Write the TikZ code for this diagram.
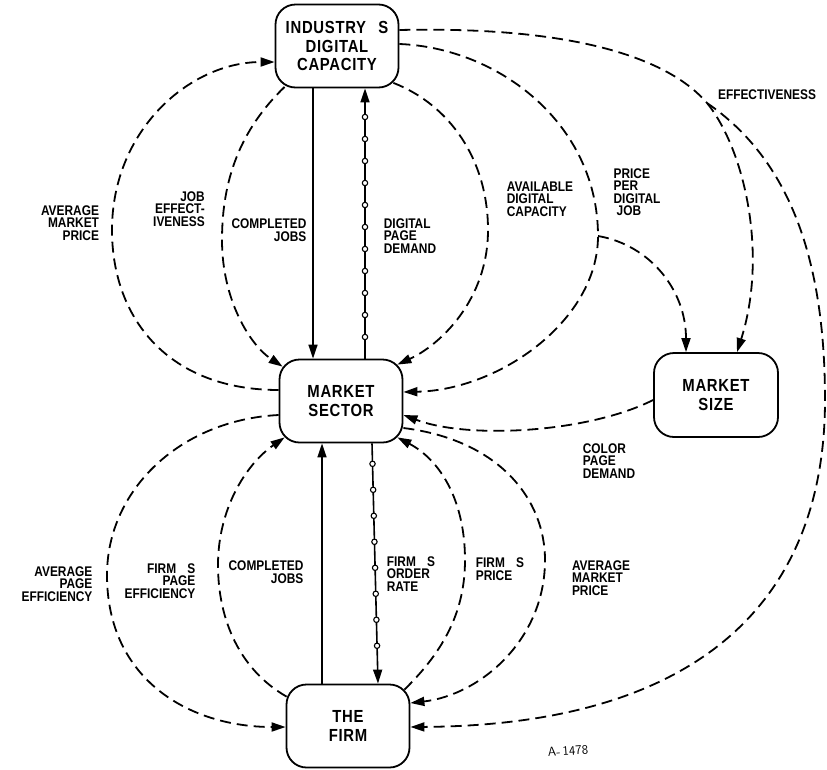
\documentclass[tikz,border=0pt]{standalone}
\usepackage{fontspec}
\newfontfamily\labfont{Liberation Sans}[FakeStretch=0.85]
\newfontfamily\boxfont{Liberation Sans}[FakeStretch=0.85,LetterSpace=4]
\usetikzlibrary{arrows.meta,decorations.markings,calc}
\begin{document}
\begin{tikzpicture}[x=1pt,y=-1pt,
  box/.style={draw, line width=1.8pt, rounded corners=20pt, minimum width=123pt, minimum height=83pt, align=center, inner sep=0pt, font=\boxfont\bfseries\fontsize{17.5}{18.5}\selectfont},
  lbl/.style={inner sep=0pt, font=\labfont\bfseries\fontsize{14}{12.5}\selectfont},
  lblL/.style={lbl, align=left},
  lblR/.style={lbl, align=right},
  dline/.style={line width=1.8pt, dash pattern=on 11pt off 6pt},
  sline/.style={line width=1.6pt},
  tip/.style={-{Triangle[length=14pt,width=9pt]}}
]
\fill[white] (0,0) rectangle (827,769);
\useasboundingbox (0,0) rectangle (827,769);

% boxes
\node[box] (ind) at (337,46) {INDUSTRY\hspace{0.7em}S\\DIGITAL\\CAPACITY};
\node[box] (ms) at (341,401) {MARKET\\SECTOR};
\node[box, minimum width=124pt, minimum height=84pt] (msize) at (716,395) {MARKET\\SIZE};
\node[box] (firm) at (348,726) {THE\\FIRM};

% labels
\node[lblR] (l1) at (70,223) {AVERAGE\\MARKET\\PRICE};
\node[lblR] (l2) at (179,209) {JOB\\EFFECT-\\IVENESS};
\node[lblR] (l3) at (269,230) {COMPLETED\\JOBS};
\node[lblL] (l4) at (410,236) {DIGITAL\\PAGE\\DEMAND};
\node[lblL] (l5) at (540,199) {AVAILABLE\\DIGITAL\\CAPACITY};
\node[lblL] (l6) at (637,192) {PRICE\\PER\\DIGITAL\\\hspace{3pt}JOB};
\node[lbl] (l7) at (767,95) {EFFECTIVENESS};
\node[lblL] (l8) at (609,461) {COLOR\\PAGE\\DEMAND};
\node[lblR] (l9) at (57,584) {AVERAGE\\PAGE\\EFFICIENCY};
\node[lblR] (l10) at (160,581) {FIRM\hspace{0.8em}S\\PAGE\\EFFICIENCY};
\node[lblR] (l11) at (266,572) {COMPLETED\\JOBS};
\node[lblL] (l12) at (411,574) {FIRM\hspace{0.8em}S\\ORDER\\RATE};
\node[lblL] (l13) at (500,569) {FIRM\hspace{0.8em}S\\PRICE};
\node[lblL] (l14) at (601,578) {AVERAGE\\MARKET\\PRICE};
\node[inner sep=0pt, font=\sffamily\fontsize{13}{13}\selectfont, rotate=4] (l15) at (568,751) {A-\,1478};

% solid connectors
\draw[sline,tip] ($(ind.south)+(-24,0)$) -- ($(ms.north)+(-28,0)$);
\draw[sline,tip, postaction={decorate}, decoration={markings, mark=between positions 0.08 and 0.92 step 22pt with {\draw[line width=1.1pt,fill=white,solid] (0,0) circle (2.7pt);}}]
  ($(ms.north)+(24,0)$) -- ($(ind.south)+(28,0)$);
\draw[sline,tip] ($(firm.north)+(-26,0)$) -- ($(ms.south)+(-19,0)$);
\draw[sline,tip, postaction={decorate}, decoration={markings, mark=between positions 0.085 and 0.86 step 26pt with {\draw[line width=1.1pt,fill=white,solid] (0,0) circle (2.7pt);}}]
  ($(ms.south)+(31,0)$) -- ($(firm.north)+(30,0)$);

% dashed connectors, upper half
\draw[dline,tip] ($(ms.west)+(0,-11)$) .. controls (170,390) and (112,320) .. (112,230)
  .. controls (112,130) and (190,62) .. ($(ind.west)+(0,16)$);
\draw[dline,tip] ($(ind.south west)+(10,-1.5)$) .. controls (240,130) and (222,180) .. (222,240)
  .. controls (222,300) and (250,345) .. ($(ms.north west)+(4,8)$);
\draw[dline,tip] ($(ind.south east)+(-6,-5.5)$) .. controls (450,105) and (488,160) .. (488,230)
  .. controls (488,300) and (440,345) .. ($(ms.north east)+(-6,6)$);
\coordinate (pj) at (598,236);
\draw[dline,tip] ($(ind.east)+(0,-2)$) .. controls (500,48) and (598,125) .. (pj)
  .. controls (598,320) and (500,390) .. ($(ms.east)+(0,-9)$);
\draw[dline,tip] (pj) .. controls (650,245) and (686,290) .. ($(msize.north)+(-30,0)$);
\coordinate (ef) at (707,103);
\draw[dline] ($(ind.east)+(0,-16)$) .. controls (580,26) and (670,60) .. (ef);
\draw[dline,tip] (ef) .. controls (745,150) and (768,255) .. ($(msize.north)+(21,0)$);
\draw[dline,tip] (ef) .. controls (790,160) and (825,260) .. (825,400)
  .. controls (825,600) and (700,725) .. ($(firm.east)+(0,1)$);
\draw[dline,tip] ($(msize.west)+(0,5)$) .. controls (590,432) and (470,440) .. ($(ms.east)+(0,14)$);

% dashed connectors, lower half
\draw[dline,tip] ($(ms.east)+(0,27)$) .. controls (500,440) and (545,500) .. (545,560)
  .. controls (545,640) and (480,695) .. ($(firm.east)+(0,-23)$);
\draw[dline,tip] ($(firm.north east)+(-6,6)$) .. controls (445,650) and (465,610) .. (465,560)
  .. controls (465,500) and (440,460) .. ($(ms.south east)+(-6,-6)$);
\draw[dline,tip] ($(firm.north west)+(1,13)$) .. controls (240,670) and (218,620) .. (218,565)
  .. controls (218,510) and (245,465) .. ($(ms.south west)+(6,-6)$);
\draw[dline,tip] ($(ms.west)+(0,14)$) .. controls (180,420) and (107,490) .. (107,575)
  .. controls (107,680) and (190,727) .. ($(firm.west)+(0,1)$);
\end{tikzpicture}
\end{document}
